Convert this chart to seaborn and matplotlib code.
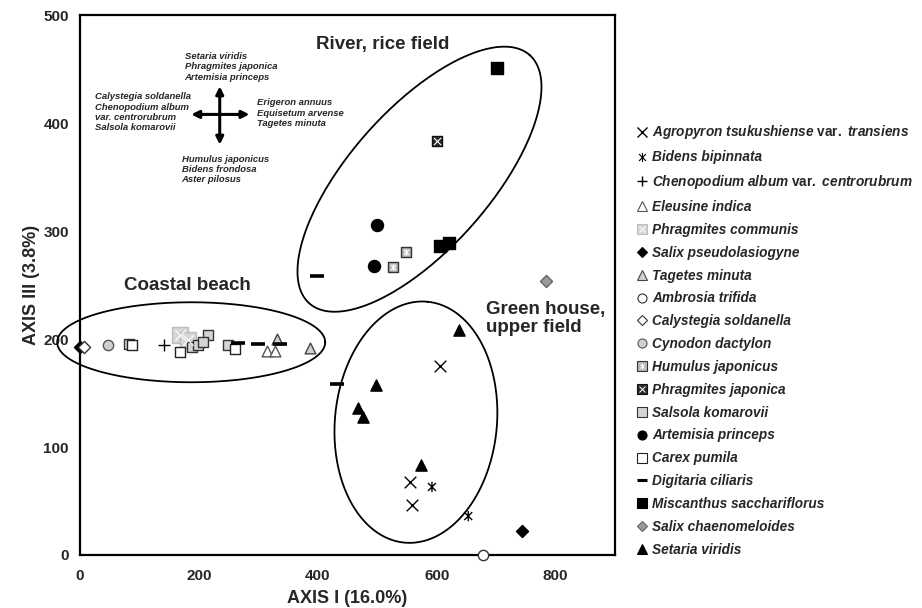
import numpy as np
import matplotlib
matplotlib.use("Agg")
import matplotlib.pyplot as plt
from matplotlib.path import Path
from matplotlib.lines import Line2D
import seaborn as sns

# species scores, (AXIS I, AXIS III)
agropyron = [(606, 175), (555, 68), (558, 46)]
bidens = [(592, 63), (653, 36)]
chenopodium = [(141, 194)]
eleusine = [(314, 189), (328, 189)]
phrag_comm = [(168, 204), (182, 199)]
salix_pseudo = [(0, 193), (743, 22)]
tagetes = [(331, 200), (387, 192)]
ambrosia = [(678, 0)]
calystegia = [(7, 193)]
cynodon = [(47, 194)]
humulus = [(548, 281), (526, 267)]
phrag_jap = [(601, 383)]
salsola = [(82, 195), (188, 193), (199, 194), (216, 204), (207, 197), (249, 194)]
artemisia = [(499, 306), (495, 268)]
carex = [(88, 194), (168, 188), (261, 191)]
digitaria = [(399, 258), (433, 158), (300, 195), (336, 195), (266, 196)]
miscanthus = [(702, 451), (606, 286), (620, 289)]
salix_chaen = [(783, 254)]
setaria = [(637, 208), (574, 83), (498, 157), (468, 136), (476, 128)]

labels = [
    "Agropyron tsukushiense $\\mathrm{var.}$ transiens",
    "Bidens bipinnata",
    "Chenopodium album $\\mathrm{var.}$ centrorubrum",
    "Eleusine indica",
    "Phragmites communis",
    "Salix pseudolasiogyne",
    "Tagetes minuta",
    "Ambrosia trifida",
    "Calystegia soldanella",
    "Cynodon dactylon",
    "Humulus japonicus",
    "Phragmites japonica",
    "Salsola komarovii",
    "Artemisia princeps",
    "Carex pumila",
    "Digitaria ciliaris",
    "Miscanthus sacchariflorus",
    "Salix chaenomeloides",
    "Setaria viridis",
]
points = [agropyron, bidens, chenopodium, eleusine, phrag_comm, salix_pseudo, tagetes,
          ambrosia, calystegia, cynodon, humulus, phrag_jap, salsola, artemisia, carex,
          digitaria, miscanthus, salix_chaen, setaria]

# group ellipses: centre (data), semi axes (px), angle (deg)
groups = [("River, rice field", (571, 348), 166, 70, 48.4),
          ("Green house", (565, 123), 121, 81, 84.5),
          ("Coastal beach", (187, 197), 134, 40, 0)]

# x with a vertical bar
star6 = Path([(-1, -1), (1, 1), (-1, 1), (1, -1), (0, -1.3), (0, 1.3)],
             [Path.MOVETO, Path.LINETO] * 3)

# marker, face, edge, size, linewidth, overlay marker (white)
styles = [
    ("x", "black", None, 70, 1.0, None),
    (star6, "none", "black", 55, 1.0, None),
    ("+", "black", None, 65, 1.0, None),
    ("^", "white", "#555555", 60, 1.0, None),
    ("s", "#d6d6d6", "#bdbdbd", 130, 1.0, "x"),
    ("D", "black", "black", 38, 1.0, None),
    ("^", "#d0d0d0", "#444444", 60, 1.0, None),
    ("o", "white", "#333333", 55, 1.0, None),
    ("D", "white", "#333333", 38, 1.0, None),
    ("o", "#d0d0d0", "#555555", 55, 1.0, None),
    ("s", "#b8b8b8", "#333333", 50, 1.0, star6),
    ("s", "#2b2b2b", "#111111", 62, 1.0, "x"),
    ("s", "#d4d4d4", "#333333", 62, 1.0, None),
    ("o", "black", "black", 75, 1.0, None),
    ("s", "white", "#222222", 62, 1.0, None),
    ("_", "black", None, 110, 2.6, None),
    ("s", "black", "black", 80, 1.0, None),
    ("D", "#9a9a9a", "#666666", 38, 1.0, None),
    ("^", "black", "black", 65, 1.0, None),
]

sns.set_style("white")
plt.rcParams["font.family"] = ["Liberation Sans", "DejaVu Sans"]
plt.rcParams["mathtext.fontset"] = "custom"
plt.rcParams["mathtext.rm"] = "Liberation Sans:bold"

fig = plt.figure(figsize=(9.22, 6.08), dpi=100)
ax = fig.add_axes([0.0868, 0.0872, 0.5803, 0.888])
ax.set_xlim(0, 900)
ax.set_ylim(0, 500)

# pixels per data unit, for drawing round ellipses
px_x = 0.5803 * 922 / 900
px_y = 0.888 * 608 / 500

t = np.linspace(0, 2 * np.pi, 300)
for name, (cx, cy), a, b, ang in groups:
    th = np.deg2rad(ang)
    u = a * np.cos(t)
    v = b * np.sin(t)
    ex = cx + (u * np.cos(th) - v * np.sin(th)) / px_x
    ey = cy + (u * np.sin(th) + v * np.cos(th)) / px_y
    ax.plot(ex, ey, color="black", lw=1.3, zorder=1, clip_on=False)

handles = []
for pts, (m, face, edge, s, lw, over) in zip(points, styles):
    xs = [p[0] for p in pts]
    ys = [p[1] for p in pts]
    kw = dict(marker=m, s=s, color=face, linewidth=lw, ax=ax, zorder=3,
              legend=False, clip_on=False)
    if edge is not None:
        kw["edgecolor"] = edge
    sns.scatterplot(x=xs, y=ys, **kw)
    if over is not None:
        sns.scatterplot(x=xs, y=ys, marker=over, s=s * 0.45, color="white",
                        edgecolor="white", linewidth=0.8, ax=ax, zorder=4, legend=False)

    ms = 6.5
    if edge is None:
        h = Line2D([], [], ls="none", marker=m, markersize=ms, color=face,
                   markeredgewidth=lw if m != "_" else 2.2)
    else:
        h = Line2D([], [], ls="none", marker=m, markersize=ms * (0.8 if m == "D" else 1),
                   markerfacecolor=face, markeredgecolor=edge, markeredgewidth=0.8)
    if over is not None:
        h2 = Line2D([], [], ls="none", marker=over, markersize=ms * 0.6,
                    color="white", markeredgewidth=0.7)
        h = (h, h2)
    handles.append(h)

# group names
ax.text(509, 473, "River, rice field", fontsize=13.5, fontweight="bold",
        ha="center", va="center")
ax.text(180, 250, "Coastal beach", fontsize=13.5, fontweight="bold",
        ha="center", va="center")
ax.text(683, 219, "Green house,\nupper field", fontsize=13.5, fontweight="bold",
        ha="left", va="center", linespacing=1.05)

# direction key
arrow = dict(arrowstyle="<|-|>", color="black", lw=2.2, mutation_scale=11,
             shrinkA=0, shrinkB=0)
ax.annotate("", xy=(285, 408), xytext=(187, 408), arrowprops=arrow)
ax.annotate("", xy=(235, 434), xytext=(235, 380), arrowprops=arrow)
key = dict(fontsize=6.8, fontweight="bold", fontstyle="italic", ha="left",
           va="center", linespacing=1.2)
ax.text(176, 452, "Setaria viridis\nPhragmites japonica\nArtemisia princeps", **key)
ax.text(26, 410, "Calystegia soldanella\nChenopodium album\nvar. centrorubrum\nSalsola komarovii", **key)
ax.text(297, 409, "Erigeron annuus\nEquisetum arvense\nTagetes minuta", **key)
ax.text(171, 357, "Humulus japonicus\nBidens frondosa\nAster pilosus", **key)

ax.set_xticks([0, 200, 400, 600, 800])
ax.set_yticks([0, 100, 200, 300, 400, 500])
ax.tick_params(length=0, labelsize=11)
ax.tick_params(axis="x", pad=10)
ax.tick_params(axis="y", pad=8)
for lab in ax.get_xticklabels() + ax.get_yticklabels():
    lab.set_fontweight("bold")
for sp in ax.spines.values():
    sp.set_color("black")
    sp.set_linewidth(1.6)

ax.set_xlabel("AXIS I (16.0%)", fontsize=13, fontweight="bold")
ax.set_ylabel("AXIS III (3.8%)", fontsize=13, fontweight="bold")
ax.xaxis.set_label_coords(0.5, -0.064)
ax.yaxis.set_label_coords(-0.075, 0.5)

fig.legend(handles, labels, loc="upper left", bbox_to_anchor=(0.69, 0.797),
           frameon=False, borderpad=0, borderaxespad=0, handlelength=0.9,
           handletextpad=0.25, labelspacing=0.65,
           prop=dict(family="Liberation Sans", weight="bold", style="italic", size=9.8))

fig.savefig("out.png", dpi=100)
